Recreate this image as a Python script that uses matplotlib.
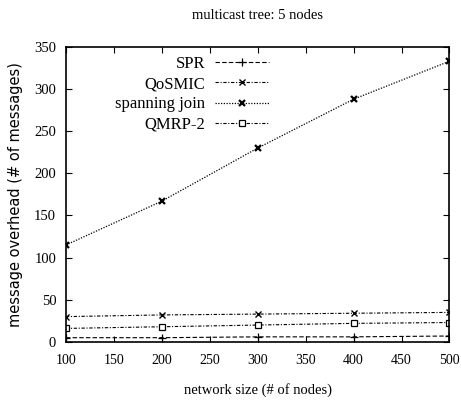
import matplotlib
matplotlib.use("Agg")
import matplotlib.pyplot as plt

# network sizes and message overhead per protocol
sizes = [100, 200, 300, 400, 500]
spr = [5, 5, 6, 6, 7]
qosmic = [30, 32, 33, 34, 35]
spanning_join = [115, 167, 230, 288, 333]
qmrp2 = [16, 18, 20, 22, 23]

xticks = [100, 150, 200, 250, 300, 350, 400, 450, 500]
yticks = [0, 50, 100, 150, 200, 250, 300, 350]

plt.rcParams["font.family"] = ["Liberation Serif", "DejaVu Serif"]

fig = plt.figure(figsize=(4.61, 4.08), dpi=100)
ax = fig.add_axes([0.143, 0.162, 0.832, 0.723])

ax.plot(sizes, spr, color="black", lw=0.8, ls=(0, (4, 2)), marker="+",
        ms=6, mew=0.9, label="SPR")
ax.plot(sizes, qosmic, color="black", lw=0.8, ls=(0, (3, 1.5, 1, 1.5)), marker="x",
        ms=5, mew=1.0, label="QoSMIC")
ax.plot(sizes, spanning_join, color="black", lw=0.9, ls=(0, (1, 1.2)), marker="x",
        ms=5, mew=1.6, label="spanning join")
ax.plot(sizes, qmrp2, color="black", lw=0.8, ls=(0, (3, 1.5, 1, 1.5)), marker="s",
        ms=5, mfc="white", mew=0.9, label="QMRP-2")

ax.set_xlim(100, 500)
ax.set_ylim(0, 350)
ax.set_xticks(xticks)
ax.set_yticks(yticks)
ax.tick_params(direction="in", top=True, right=True, labelsize=10.5, length=4)
ax.tick_params(axis="x", pad=9, labelsize=10)
ax.tick_params(axis="y", pad=7)
for s in ax.spines.values():
    s.set_linewidth(1.2)

ax.set_title("multicast tree: 5 nodes", fontsize=10.5, pad=20)
ax.set_xlabel("network size (# of nodes)", fontsize=10.5, labelpad=11)
ax.set_ylabel("message overhead (# of messages)", fontsize=10.5, labelpad=8,
              family=["DejaVu Sans"])

ax.legend(loc="upper left", bbox_to_anchor=(0.09, 1.02), markerfirst=False,
          frameon=False, fontsize=12, handlelength=3.2, labelspacing=0.25,
          handletextpad=0.6)

fig.savefig("out.png", dpi=100)
